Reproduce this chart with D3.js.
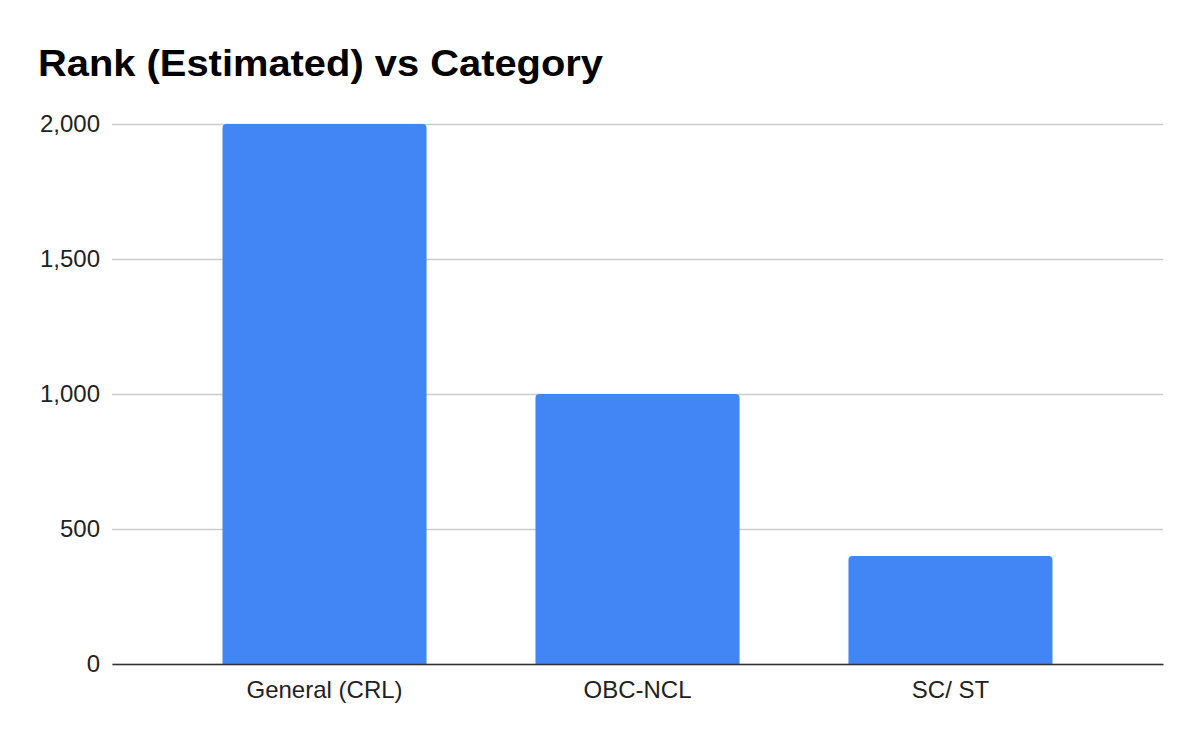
<!DOCTYPE html>
<html>
<head>
<meta charset="utf-8">
<script src="https://cdn.jsdelivr.net/npm/d3@7"></script>
<style>
  body { margin: 0; background: #fff; }
  text { font-family: "Liberation Sans", Arial, sans-serif; }
</style>
</head>
<body>
<svg id="chart" width="1200" height="742"></svg>
<script>
const categories = ["General (CRL)", "OBC-NCL", "SC/ ST"];
const ranks = [2000, 1000, 400];
const yTicks = [0, 500, 1000, 1500, 2000];

const svg = d3.select("#chart");
const plotLeft = 112, plotRight = 1163, plotTop = 124, plotBottom = 664;

svg.append("rect").attr("width", 1200).attr("height", 742).attr("fill", "#fff");

svg.append("text")
  .attr("x", 38).attr("y", 76)
  .attr("font-size", 37).attr("font-weight", "bold").attr("fill", "#000")
  .attr("textLength", 565).attr("lengthAdjust", "spacingAndGlyphs")
  .text("Rank (Estimated) vs Category");

let x = d3.scaleBand().domain(categories).range([plotLeft, plotRight])
  .paddingInner(0.348).paddingOuter(0.353);
let y = d3.scaleLinear().domain([0, 2000]).range([plotBottom, plotTop]);

// gridlines + y labels
const yAxis = svg.append("g").attr("transform", `translate(${plotLeft},0)`)
  .call(d3.axisLeft(y).tickValues(yTicks).tickSize(-(plotRight - plotLeft)).tickFormat(d3.format(",")));
yAxis.select(".domain").remove();
yAxis.selectAll(".tick line").attr("stroke", "#cccccc").attr("stroke-width", 1.3);
yAxis.selectAll(".tick text").attr("x", -12).attr("dy", "0.33em").attr("font-size", 24).attr("fill", "#222")
  .attr("font-family", "Liberation Sans, Arial, sans-serif");

// bars with rounded tops
const r = 4;
svg.append("g").selectAll("path").data(ranks).join("path")
  .attr("fill", "#4285f4")
  .attr("d", (d, i) => {
    const x0 = x(categories[i]), x1 = x0 + x.bandwidth(), y0 = y(d), y1 = y(0);
    return `M${x0},${y1}V${y0 + r}Q${x0},${y0} ${x0 + r},${y0}H${x1 - r}Q${x1},${y0} ${x1},${y0 + r}V${y1}Z`;
  });

// baseline + x labels
const xAxis = svg.append("g").attr("transform", `translate(0,${plotBottom})`)
  .call(d3.axisBottom(x).tickSize(0).tickSizeOuter(0));
xAxis.select(".domain").attr("stroke", "#333").attr("stroke-width", 1.5);
xAxis.selectAll(".tick text").attr("dy", 0).attr("y", 34).attr("font-size", 24).attr("fill", "#222")
  .attr("font-family", "Liberation Sans, Arial, sans-serif");
</script>
</body>
</html>
